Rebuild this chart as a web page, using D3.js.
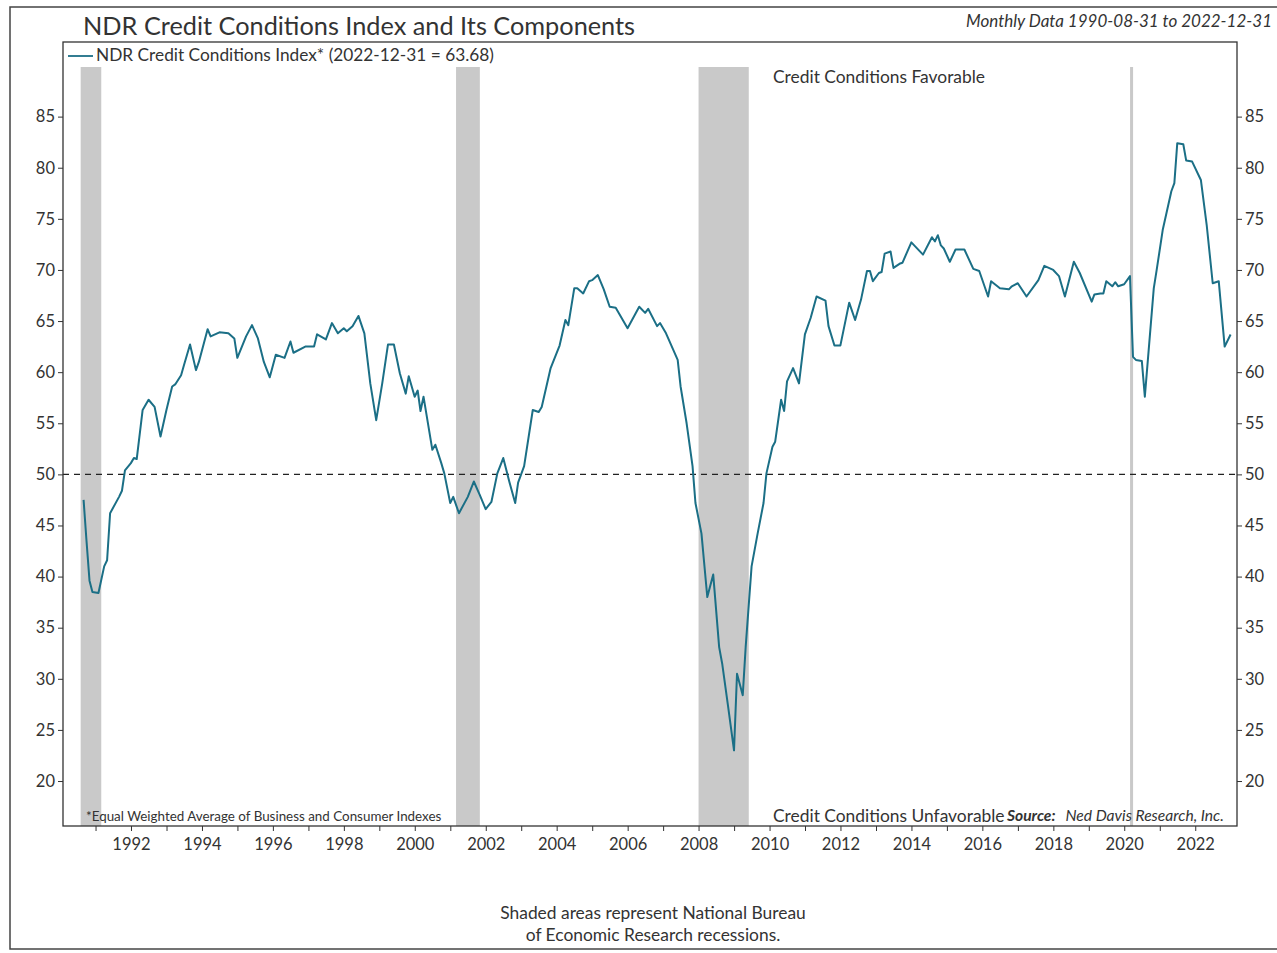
<!DOCTYPE html>
<html>
<head>
<meta charset="utf-8">
<script src="https://d3js.org/d3.v7.min.js"></script>
<style>
  body { margin: 0; background: #fff; }
  svg text { font-family: Lato, "Open Sans", sans-serif; fill: #333; }
</style>
</head>
<body>
<div id="chart"></div>
<script>
// monthly readings (month-end) of the NDR Credit Conditions Index
var months = [
  "1990-08","1990-09","1990-10","1990-11","1991-01","1991-03","1991-04","1991-05","1991-08","1991-09","1991-10","1991-12",
  "1992-01","1992-02","1992-04","1992-06","1992-08","1992-10","1992-12",
  "1993-02","1993-03","1993-05","1993-06","1993-08","1993-10","1993-11",
  "1994-02","1994-03","1994-06","1994-09","1994-11","1994-12",
  "1995-03","1995-05","1995-07","1995-09","1995-11",
  "1996-01","1996-04","1996-06","1996-07","1996-11",
  "1997-02","1997-03","1997-06","1997-08","1997-10","1997-12",
  "1998-01","1998-03","1998-05","1998-07","1998-09","1998-11",
  "1999-01","1999-03","1999-05","1999-07","1999-09","1999-10","1999-12",
  "2000-01","2000-02","2000-03","2000-06","2000-07","2000-09","2000-10","2000-12",
  "2001-01","2001-03","2001-06","2001-08","2001-10","2001-12",
  "2002-02","2002-04","2002-06","2002-08","2002-10","2002-11",
  "2003-01","2003-04","2003-06","2003-07","2003-10",
  "2004-01","2004-03","2004-04","2004-06","2004-07","2004-09","2004-11","2004-12",
  "2005-02","2005-04","2005-06","2005-08","2005-12",
  "2006-04","2006-06","2006-07","2006-10","2006-11",
  "2007-01","2007-05","2007-06","2007-08","2007-10","2007-11",
  "2008-01","2008-03","2008-05","2008-07","2008-08","2008-10","2008-12",
  "2009-01","2009-03","2009-04","2009-06","2009-08","2009-10","2009-11",
  "2010-01","2010-02","2010-04","2010-05","2010-06","2010-08","2010-10","2010-12",
  "2011-02","2011-04","2011-07","2011-08","2011-10","2011-12",
  "2012-03","2012-05","2012-07","2012-09","2012-10","2012-11",
  "2013-01","2013-02","2013-03","2013-05","2013-06","2013-08","2013-09","2013-12",
  "2014-04","2014-07","2014-08","2014-09","2014-10","2014-11",
  "2015-01","2015-03","2015-06","2015-09","2015-11",
  "2016-02","2016-03","2016-06","2016-09","2016-10","2016-12",
  "2017-03","2017-07","2017-09","2017-12",
  "2018-02","2018-04","2018-07","2018-09",
  "2019-01","2019-02","2019-04","2019-05","2019-06","2019-08","2019-09","2019-10","2019-12",
  "2020-02","2020-03","2020-04","2020-06","2020-07","2020-10","2020-11",
  "2021-01","2021-04","2021-05","2021-06","2021-08","2021-09","2021-11",
  "2022-02","2022-04","2022-06","2022-08","2022-10","2022-12"
];
var values = [
  47.5,43.5,39.6,38.5,38.4,41.0,41.6,46.2,47.8,48.4,50.4,51.1,
  51.6,51.5,56.3,57.3,56.6,53.7,56.3,
  58.6,58.8,59.7,60.7,62.7,60.2,61.0,
  64.2,63.5,63.9,63.8,63.3,61.4,
  63.5,64.6,63.3,61.0,59.5,
  61.7,61.4,63.0,61.9,62.5,
  62.5,63.7,63.2,64.8,63.8,64.3,
  64.0,64.5,65.5,63.8,58.9,55.3,
  58.9,62.7,62.7,59.9,57.9,59.6,57.6,
  58.2,56.2,57.6,52.4,52.9,51.1,50.1,47.2,
  47.8,46.2,47.8,49.3,48.0,46.6,
  47.3,50.1,51.6,49.3,47.2,49.2,
  50.8,56.3,56.1,56.6,60.4,
  62.6,65.1,64.6,68.2,68.2,67.7,68.9,69.0,
  69.5,68.1,66.4,66.3,64.3,
  66.4,65.8,66.2,64.5,64.8,
  63.8,61.2,58.6,55.0,50.8,47.2,
  44.2,38.0,40.2,33.1,31.5,27.3,23.0,
  30.5,28.4,33.1,41.0,44.2,47.2,50.1,
  52.7,53.2,57.3,56.2,59.1,60.4,58.9,63.7,
  65.3,67.4,67.0,64.5,62.6,62.6,
  66.8,65.1,67.1,69.9,69.9,68.9,
  69.7,69.8,71.6,71.8,70.2,70.6,70.7,72.7,
  71.5,73.2,72.8,73.4,72.4,72.1,
  70.8,72.0,72.0,70.1,69.9,
  67.4,68.9,68.2,68.1,68.4,68.7,
  67.4,69.0,70.4,70.0,
  69.4,67.4,70.8,69.7,
  66.9,67.6,67.7,67.7,68.9,68.4,68.8,68.4,68.6,
  69.4,61.5,61.2,61.1,57.6,68.2,70.0,
  73.9,77.7,78.5,82.4,82.3,80.7,80.6,
  78.8,74.3,68.7,68.9,62.5,63.68
];
var recessionStart = ["1990-08","2001-03","2008-01","2020-03"];
var recessionEnd   = ["1991-03","2001-11","2009-06","2020-04"];
var yTicks = [20,25,30,35,40,45,50,55,60,65,70,75,80,85];
var xTickYears = [1991,1992,1993,1994,1995,1996,1997,1998,1999,2000,2001,2002,2003,2004,2005,2006,
                  2007,2008,2009,2010,2011,2012,2013,2014,2015,2016,2017,2018,2019,2020,2021,2022];

var W = 1277, H = 953;
var plotL = 63, plotR = 1237, plotT = 42, plotB = 826;
var lineColor = "#1b6f86";
var parseMonth = d3.timeParse("%Y-%m");
function monthEnd(s) { return d3.timeDay.offset(d3.timeMonth.offset(parseMonth(s), 1), -1); }

var data = months.map(function (m, i) { return { date: monthEnd(m), value: values[i] }; });

var svg = d3.select("#chart").append("svg")
  .attr("width", W).attr("height", H);

var x = d3.scaleTime()
  .domain([new Date(1990, 0, 31), new Date(2023, 2, 7)])
  .range([plotL, plotR]);
var y = d3.scaleLinear()
  .domain([15.6, 92.3])
  .range([plotB, plotT]);

// outer border
svg.append("rect").attr("x", 10).attr("y", 7).attr("width", 1300).attr("height", 942)
  .attr("fill", "none").attr("stroke", "#444").attr("stroke-width", 1.5);

// recession bands
svg.selectAll(".rec").data(recessionStart).enter().append("rect")
  .attr("class", "rec")
  .attr("x", function (d) { return x(parseMonth(d)); })
  .attr("width", function (d, i) { return x(parseMonth(recessionEnd[i])) - x(parseMonth(d)); })
  .attr("y", 67).attr("height", plotB - 67)
  .attr("fill", "#c9c9c9");

// 50 line
svg.append("line").attr("x1", plotL).attr("x2", plotR)
  .attr("y1", y(50)).attr("y2", y(50))
  .attr("stroke", "#222").attr("stroke-width", 1.2).attr("stroke-dasharray", "6,5");

// index line
var line = d3.line().x(function (d) { return x(d.date); }).y(function (d) { return y(d.value); });
svg.append("path").datum(data)
  .attr("d", line).attr("fill", "none")
  .attr("stroke", lineColor).attr("stroke-width", 2).attr("stroke-linejoin", "round");

// frame
svg.append("rect").attr("x", plotL).attr("y", plotT).attr("width", plotR - plotL).attr("height", plotB - plotT)
  .attr("fill", "none").attr("stroke", "#333").attr("stroke-width", 1.3);

// axes
var gLeft = svg.append("g").attr("transform", "translate(" + plotL + ",0)")
  .call(d3.axisLeft(y).tickValues(yTicks).tickSize(5).tickPadding(3));
var gRight = svg.append("g").attr("transform", "translate(" + plotR + ",0)")
  .call(d3.axisRight(y).tickValues(yTicks).tickSize(5).tickPadding(3));
var gBottom = svg.append("g").attr("transform", "translate(0," + plotB + ")")
  .call(d3.axisBottom(x)
    .tickValues(xTickYears.map(function (yy) { return new Date(yy, 0, 1); }))
    .tickSize(5).tickPadding(7)
    .tickFormat(function (d) { return d.getFullYear() % 2 === 0 ? d.getFullYear() : ""; }));
[gLeft, gRight, gBottom].forEach(function (g) {
  g.select(".domain").remove();
  g.selectAll("line").attr("stroke", "#333");
  g.selectAll("text").attr("font-size", 16.5).attr("fill", "#333");
});

// titles
svg.append("text").attr("x", 83).attr("y", 35).attr("font-size", 25.3)
  .text("NDR Credit Conditions Index and Its Components");
svg.append("text").attr("x", 1272).attr("y", 27).attr("font-size", 17).attr("font-style", "italic")
  .attr("text-anchor", "end")
  .text("Monthly Data 1990-08-31 to 2022-12-31");

// legend
svg.append("line").attr("x1", 68).attr("x2", 93).attr("y1", 56).attr("y2", 56)
  .attr("stroke", lineColor).attr("stroke-width", 1.8);
svg.append("text").attr("x", 96).attr("y", 61).attr("font-size", 17.3)
  .text("NDR Credit Conditions Index* (2022-12-31 = 63.68)");

svg.append("text").attr("x", 773).attr("y", 83).attr("font-size", 17.4)
  .text("Credit Conditions Favorable");
svg.append("text").attr("x", 773).attr("y", 822).attr("font-size", 17.4)
  .text("Credit Conditions Unfavorable");
var src = svg.append("text").attr("x", 1007).attr("y", 821).attr("font-size", 15.6).attr("font-style", "italic");
src.append("tspan").attr("font-weight", "bold").text("Source:");
src.append("tspan").attr("dx", 10).text("Ned Davis Research, Inc.");

svg.append("text").attr("x", 86).attr("y", 821).attr("font-size", 13.4)
  .text("*Equal Weighted Average of Business and Consumer Indexes");

svg.append("text").attr("x", 653).attr("y", 919).attr("font-size", 17.4).attr("text-anchor", "middle")
  .text("Shaded areas represent National Bureau");
svg.append("text").attr("x", 653).attr("y", 941).attr("font-size", 17.4).attr("text-anchor", "middle")
  .text("of Economic Research recessions.");
</script>
</body>
</html>
